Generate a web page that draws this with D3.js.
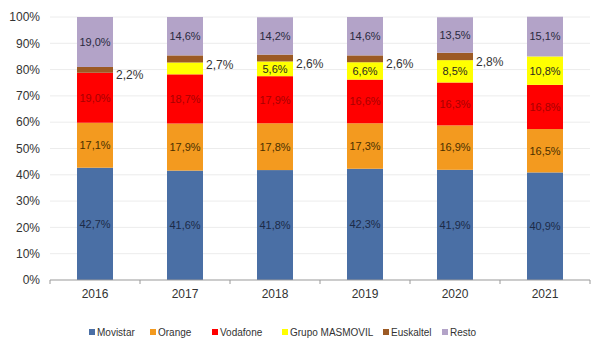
<!DOCTYPE html>
<html>
<head>
<meta charset="utf-8">
<script src="https://cdn.jsdelivr.net/npm/d3@7"></script>
<style>
  body { margin: 0; background: #fff; }
  text { font-family: "Liberation Sans", Arial, sans-serif; }
</style>
</head>
<body>
<div id="chart"></div>
<script>
// Data
const years = ["2016", "2017", "2018", "2019", "2020", "2021"];
const operators = ["Movistar", "Orange", "Vodafone", "Grupo MASMOVIL", "Euskaltel", "Resto"];
const movistar = [42.7, 41.6, 41.8, 42.3, 41.9, 40.9];
const orange = [17.1, 17.9, 17.8, 17.3, 16.9, 16.5];
const vodafone = [19.0, 18.7, 17.9, 16.6, 16.3, 16.8];
const masmovil = [0, 4.5, 5.6, 6.6, 8.5, 10.8];
const euskaltel = [2.2, 2.7, 2.6, 2.6, 2.8, 0];
const resto = [19.0, 14.6, 14.2, 14.6, 13.5, 15.1];
const yTicks = [0, 10, 20, 30, 40, 50, 60, 70, 80, 90, 100];

const colors = ["#4a6fa5", "#f39a1f", "#ff0000", "#ffff00", "#9c5a24", "#b3a3c8"];
const labelColors = ["#1c2b48", "#4a3000", "#a80000", "#2a2a20", "#222", "#2a2a40"];

// Build table
const table = years.map((yr, i) => ({
  year: yr,
  "Movistar": movistar[i],
  "Orange": orange[i],
  "Vodafone": vodafone[i],
  "Grupo MASMOVIL": masmovil[i],
  "Euskaltel": euskaltel[i],
  "Resto": resto[i]
}));

const fmt = v => v.toFixed(1).replace(".", ",") + "%";

// Dimensions
const width = 600, height = 350;
const margin = { top: 17, right: 10, bottom: 70, left: 50 };
const innerW = 590 - margin.left;
const innerH = 280 - margin.top;

const svg = d3.select("#chart")
  .append("svg")
  .attr("width", width)
  .attr("height", height);

const g = svg.append("g")
  .attr("transform", `translate(${margin.left},${margin.top})`);

const x = d3.scaleBand()
  .domain(years)
  .range([0, innerW])
  .paddingInner(0.6)
  .paddingOuter(0.3);

const y = d3.scaleLinear()
  .domain([0, 100])
  .range([innerH, 0]);

// Gridlines
g.append("g")
  .selectAll("line")
  .data(yTicks.slice(1))
  .join("line")
  .attr("x1", 0)
  .attr("x2", innerW)
  .attr("y1", d => y(d))
  .attr("y2", d => y(d))
  .attr("stroke", "#ececec")
  .attr("stroke-width", 1);

// Y axis labels
g.append("g")
  .selectAll("text")
  .data(yTicks)
  .join("text")
  .attr("x", -10)
  .attr("y", d => y(d))
  .attr("dy", "0.35em")
  .attr("text-anchor", "end")
  .style("font-size", "12px")
  .style("fill", "#333")
  .text(d => d + "%");

// Stack
const series = d3.stack().keys(operators)(table);

const layers = g.selectAll(".layer")
  .data(series)
  .join("g")
  .attr("class", "layer")
  .attr("fill", (d, i) => colors[i]);

layers.selectAll("rect")
  .data(d => d)
  .join("rect")
  .attr("x", d => x(d.data.year))
  .attr("y", d => y(d[1]))
  .attr("width", x.bandwidth())
  .attr("height", d => y(d[0]) - y(d[1]));

// Labels inside bars (Euskaltel to the right)
series.forEach((s, si) => {
  const key = s.key;
  s.forEach(d => {
    const v = d.data[key];
    if (v <= 0) return;
    if (key === "Grupo MASMOVIL" && v < 5) return;
    if (key === "Euskaltel") {
      g.append("text")
        .attr("x", x(d.data.year) + x.bandwidth() + 3)
        .attr("y", y(d[0]) + 2)
        .attr("dy", "0.35em")
        .style("font-size", "12px")
        .style("fill", "#333")
        .text(fmt(v));
      return;
    }
    g.append("text")
      .attr("x", x(d.data.year) + x.bandwidth() / 2)
      .attr("y", y((d[0] + d[1]) / 2))
      .attr("dy", "0.35em")
      .attr("text-anchor", "middle")
      .style("font-size", "11px")
      .style("fill", labelColors[si])
      .text(fmt(v));
  });
});

// X axis
const xAxis = g.append("g")
  .attr("transform", `translate(0,${innerH})`);
xAxis.append("line")
  .attr("x1", 0).attr("x2", innerW)
  .attr("stroke", "#999");
const bounds = d3.range(years.length + 1).map(i => i * innerW / years.length);
xAxis.selectAll(".tk")
  .data(bounds)
  .join("line")
  .attr("class", "tk")
  .attr("x1", d => d).attr("x2", d => d)
  .attr("y1", 0).attr("y2", 4)
  .attr("stroke", "#999");
xAxis.selectAll(".yl")
  .data(years)
  .join("text")
  .attr("class", "yl")
  .attr("x", d => x(d) + x.bandwidth() / 2)
  .attr("y", 18)
  .attr("text-anchor", "middle")
  .style("font-size", "12px")
  .style("fill", "#333")
  .text(d => d);

// Legend
const legendX = [89, 150, 212, 282, 383, 442];
const legend = svg.append("g")
  .attr("transform", "translate(0,332)");
operators.forEach((op, i) => {
  legend.append("rect")
    .attr("x", legendX[i])
    .attr("y", -3)
    .attr("width", 6)
    .attr("height", 6)
    .attr("fill", colors[i]);
  legend.append("text")
    .attr("x", legendX[i] + 8)
    .attr("y", 0)
    .attr("dy", "0.35em")
    .style("font-size", "10px")
    .style("fill", "#333")
    .text(op);
});
</script>
</body>
</html>
